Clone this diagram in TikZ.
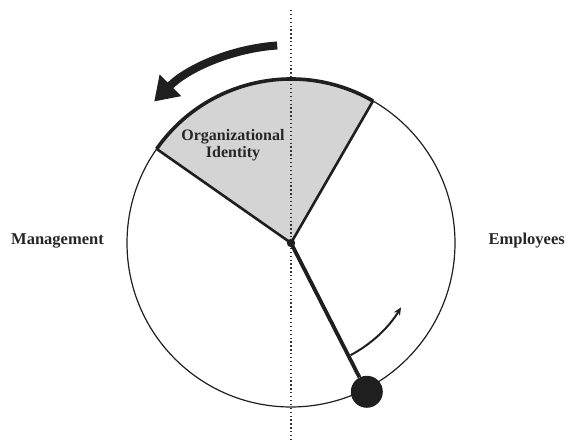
\documentclass[tikz,border=0pt]{standalone}
\usepackage{fontspec}
\setmainfont{Liberation Serif}
\usetikzlibrary{arrows.meta,calc}
\begin{document}
\begin{tikzpicture}[x=1pt,y=1pt,
  ink/.style={draw=black!88},
  rim/.style={ink, line width=1.2pt},
  edge/.style={ink, line width=2.6pt, line join=round},
  label/.style={font=\bfseries\fontsize{16.5}{18}\selectfont, text=black!85, align=center},
  axis/.style={draw=black!80, line width=1.3pt, dash pattern=on 1.3pt off 2.6pt}]
\useasboundingbox (0,0) rectangle (566,446);
\coordinate (O) at (291,203);
\def\R{164}
% sector
\fill[black!17] (O) -- ++(60:\R) arc[start angle=60,end angle=145,radius=\R] -- cycle;
% vertical axis
\coordinate (top) at (291,436);
\coordinate (bot) at (291,6);
\draw[axis] (top) -- (bot);
% circle
\draw[rim] (O) circle[radius=\R];
% sector outline
\draw[edge] (O) ++(145:\R) coordinate (L) -- (O) -- ++(60:\R) coordinate (Rt);
\draw[ink, line width=3.6pt] (Rt) arc[start angle=60,end angle=145,radius=\R];
\node[label, font=\bfseries\fontsize{16}{17}\selectfont] (oid) at (233,301) {Organizational\\Identity};
% rotation arrow
\coordinate (a0) at ($(O)+(94:198)$);
\draw[ink, line width=8pt, -{Triangle[length=23pt,width=29pt]}] (a0) arc[start angle=94,end angle=135,radius=193];
% pendulum
\node[circle, fill=black!88, minimum size=32pt, inner sep=0pt] (ball) at ($(O)+(-63:167)$) {};
\draw[ink, line width=3.8pt] (O) -- (ball);
\fill[black!88] (O) circle[radius=4.2pt];
% swing arrow
\coordinate (s0) at ($(O)+(-62:127)$);
\draw[ink, line width=2pt, -{Stealth[length=8pt,width=7pt]}] (s0) arc[start angle=-62,end angle=-31,radius=130];
% side labels
\node[label, anchor=west, inner sep=0pt] (mg) at (11,205) {Management};
\node[label, anchor=east, inner sep=0pt] (em) at (565,205) {Employees};
\end{tikzpicture}
\end{document}
